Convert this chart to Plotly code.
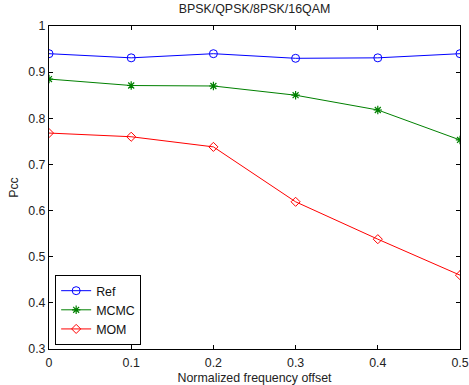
import plotly.graph_objects as go

x_vals = [0, 0.1, 0.2, 0.3, 0.4, 0.5]
ref_vals = [0.940, 0.931, 0.940, 0.930, 0.931, 0.940]
mcmc_vals = [0.885, 0.871, 0.870, 0.850, 0.818, 0.753]
mom_vals = [0.768, 0.760, 0.738, 0.619, 0.538, 0.460]

x_ticks = [0, 0.1, 0.2, 0.3, 0.4, 0.5]
y_ticks = [0.3, 0.4, 0.5, 0.6, 0.7, 0.8, 0.9, 1]

font = "Liberation Sans, Arial, sans-serif"
fs = 12.4

fig = go.Figure()
fig.add_trace(go.Scatter(x=x_vals, y=ref_vals, name="Ref", mode="lines+markers",
                         line=dict(color="#0000ff", width=1),
                         marker=dict(symbol="circle-open", size=8, color="#0000ff", line=dict(width=1))))
fig.add_trace(go.Scatter(x=x_vals, y=mcmc_vals, name="MCMC", mode="lines+markers",
                         line=dict(color="#008000", width=1),
                         marker=dict(symbol="asterisk-open", size=7, color="#008000", line=dict(width=1.2, color="#008000"))))
fig.add_trace(go.Scatter(x=x_vals, y=mom_vals, name="MOM", mode="lines+markers",
                         line=dict(color="#ff0000", width=1),
                         marker=dict(symbol="diamond-open", size=7, color="#ff0000", line=dict(width=1))))

fig.update_layout(
    width=469, height=385,
    margin=dict(l=49, r=9, t=26, b=36),
    paper_bgcolor="white", plot_bgcolor="white",
    font=dict(family=font, size=fs, color="#222222"),
    title=dict(text="BPSK/QPSK/8PSK/16QAM", x=0.5, xref="paper", xanchor="center",
               y=1, yref="container", yanchor="top", pad=dict(t=4),
               font=dict(size=fs, family=font, color="#222222")),
    showlegend=True,
    legend=dict(x=0.015, y=0.012, xanchor="left", yanchor="bottom",
                bordercolor="black", borderwidth=1, bgcolor="white",
                font=dict(size=fs, family=font, color="#111111"),
                tracegroupgap=0, itemwidth=30),
    xaxis=dict(range=[0, 0.5], tickvals=x_ticks, ticktext=[("%g" % v) for v in x_ticks],
               showgrid=False, zeroline=False, showline=True, linecolor="black", linewidth=1,
               mirror="ticks", ticks="inside", ticklen=4, tickcolor="black",
               automargin=False, ticklabelstandoff=2,
               title=dict(text="Normalized frequency offset", font=dict(size=fs)),
               tickfont=dict(size=fs)),
    yaxis=dict(range=[0.3, 1], tickvals=y_ticks, ticktext=[("%g" % v) for v in y_ticks],
               showgrid=False, zeroline=False, showline=True, linecolor="black", linewidth=1,
               mirror="ticks", ticks="inside", ticklen=4, tickcolor="black",
               automargin=True,
               title=dict(text="Pcc", standoff=6, font=dict(size=fs)),
               tickfont=dict(size=fs)),
)

fig.write_html("out.html", config={"displayModeBar": False},
               post_script="document.body.style.margin='0';document.body.style.overflow='hidden';")
